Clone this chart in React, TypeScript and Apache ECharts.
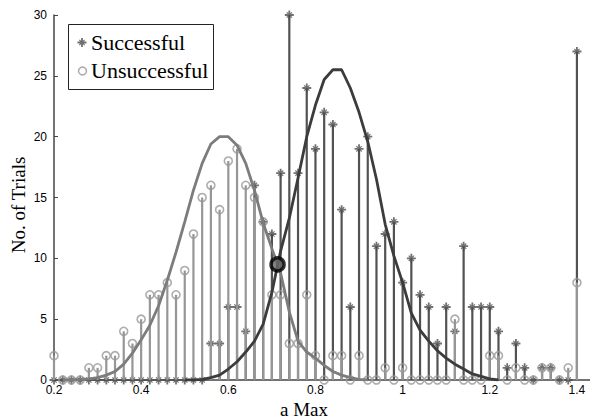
import React, { useEffect, useRef } from 'react';
import * as echarts from 'echarts';

// bin centres (a Max)
const binX = [
  0.20, 0.22, 0.24, 0.26, 0.28, 0.30, 0.32, 0.34, 0.36, 0.38,
  0.40, 0.42, 0.44, 0.46, 0.48, 0.50, 0.52, 0.54, 0.56, 0.58,
  0.60, 0.62, 0.64, 0.66, 0.68, 0.70, 0.72, 0.74, 0.76, 0.78,
  0.80, 0.82, 0.84, 0.86, 0.88, 0.90, 0.92, 0.94, 0.96, 0.98,
  1.00, 1.02, 1.04, 1.06, 1.08, 1.10, 1.12, 1.14, 1.16, 1.18,
  1.20, 1.22, 1.24, 1.26, 1.28, 1.30, 1.32, 1.34, 1.36, 1.38,
  1.40,
];

const successful = [
  0, 0, 0, 0, 0, 0, 0, 0, 0, 0,
  0, 0, 0, 0, 0, 0, 0, 0, 3, 3,
  6, 6, 4, 16, 13, 12, 17, 30, 17, 24,
  19, 22, 21, 14, 6, 19, 20, 11, 12, 13,
  8, 10, 7, 6, 3, 6, 4, 11, 6, 6,
  6, 4, 1, 3, 1, 0, 1, 1, 0, 0,
  27,
];

const unsuccessful = [
  2, 0, 0, 0, 1, 1, 2, 2, 4, 3,
  5, 7, 7, 8, 7, 9, 12, 15, 16, 14,
  18, 19, 16, 15, 13, 7, 7, 3, 3, 7,
  2, 0, 2, 2, 0, 2, 0, 0, 1, 0,
  1, 0, 0, 0, 0, 0, 5, 0, 0, 0,
  2, 2, 0, 1, 0, 0, 1, 1, 0, 1,
  8,
];

// fitted curves
const unsFitX = [
  0.22, 0.24, 0.26, 0.28, 0.30, 0.32, 0.34, 0.36, 0.38, 0.40,
  0.42, 0.44, 0.46, 0.48, 0.50, 0.52, 0.54, 0.56, 0.58, 0.60,
  0.62, 0.64, 0.66, 0.68, 0.70, 0.72, 0.74, 0.76, 0.78, 0.80,
  0.82, 0.84, 0.86, 0.88, 0.90, 0.92,
];
const unsFitY = [
  0, 0, 0.05, 0.1, 0.2, 0.4, 0.7, 1.3, 2.2, 3.3,
  4.5, 6.1, 8.2, 10.5, 13.0, 15.6, 17.8, 19.4, 20.0, 20.0,
  19.3, 17.8, 15.6, 12.9, 10.8, 8.8, 5.6, 3.2, 2.3, 1.8,
  1.2, 0.7, 0.4, 0.2, 0.05, 0,
];

const sucFitX = [
  0.50, 0.52, 0.54, 0.56, 0.58, 0.60, 0.62, 0.64, 0.66, 0.68,
  0.70, 0.72, 0.74, 0.76, 0.78, 0.80, 0.82, 0.84, 0.86, 0.88,
  0.90, 0.92, 0.94, 0.96, 0.98, 1.00, 1.02, 1.04, 1.06, 1.08,
  1.10, 1.12, 1.14, 1.16, 1.18, 1.20, 1.22,
];
const sucFitY = [
  0, 0, 0.05, 0.2, 0.4, 0.9, 1.5, 2.3, 3.2, 4.6,
  7.2, 10.6, 13.3, 16.6, 20.0, 22.6, 24.7, 25.5, 25.5, 24.0,
  22.0, 19.6, 16.5, 12.8, 10.2, 8.0, 5.5, 4.1, 3.2, 2.4,
  1.8, 1.3, 0.9, 0.5, 0.3, 0.1, 0,
];

const crossing = [0.713, 9.5];

const legendNames = ['Successful', 'Unsuccessful'];
const xTitle = 'a Max';
const yTitle = 'No. of Trials';

const STAR_D =
  'M0,4H10V6H0Z M4,0H6V10H4Z M1.6,2.5L2.5,1.6L8.4,7.5L7.5,8.4Z M7.5,1.6L8.4,2.5L2.5,8.4L1.6,7.5Z';

let registered = false;
function ensureShape() {
  if (registered) return;
  echarts.graphic.registerShape('legendStar', echarts.graphic.extendPath(STAR_D, {}));
  registered = true;
}

const SERIF = '"Liberation Serif", "Times New Roman", serif';
const SANS = '"Liberation Sans", Arial, sans-serif';

function stemSeries(name: string, xs: number[], ys: number[], color: string, z: number) {
  return {
    name,
    type: 'custom',
    z,
    silent: true,
    encode: { x: 0, y: 1 },
    data: xs.map((x, i) => [x, ys[i]]),
    renderItem: (_p: any, api: any) => {
      const x = api.value(0);
      const y = api.value(1);
      const a = api.coord([x, 0]);
      const b = api.coord([x, y]);
      return {
        type: 'line',
        shape: { x1: a[0], y1: a[1], x2: b[0], y2: b[1] },
        style: { stroke: color, lineWidth: 2.2 },
      };
    },
  };
}

export default function App() {
  const ref = useRef<HTMLDivElement>(null);

  useEffect(() => {
    if (!ref.current) return;
    ensureShape();
    const chart = echarts.init(ref.current, undefined, { renderer: 'svg' });
    const option: any = {
      animation: false,
      backgroundColor: '#fff',
      grid: { left: 54, right: 0, top: 15, bottom: 40 },
      xAxis: {
        type: 'value',
        min: 0.2,
        max: 1.43,
        interval: 0.2,
        axisLine: { lineStyle: { color: '#444', width: 1.5 } },
        axisTick: { inside: true, length: 4, lineStyle: { color: '#444' } },
        splitLine: { show: false },
        axisLabel: {
          showMaxLabel: false,
          margin: 4,
          fontSize: 12,
          fontFamily: SANS,
          color: '#000',
          formatter: (v: number) => {
            if (Math.abs(v * 5 - Math.round(v * 5)) > 1e-6) return '';
            return String(Math.round(v * 10) / 10);
          },
        },
      },
      yAxis: {
        type: 'value',
        min: 0,
        max: 30,
        interval: 5,
        axisLine: { show: true, lineStyle: { color: '#444', width: 1.5 } },
        axisTick: { show: true, inside: true, length: 4, lineStyle: { color: '#444' } },
        splitLine: { show: false },
        axisLabel: { margin: 7, fontSize: 12, fontFamily: SANS, color: '#000' },
      },
      series: [
        stemSeries('succStems', binX, successful, '#525252', 2),
        {
          name: legendNames[0],
          type: 'scatter',
          z: 3,
          symbol: 'path://' + STAR_D,
          symbolSize: 9,
          itemStyle: { color: '#4d4d4d' },
          data: binX.map((x, i) => [x, successful[i]]),
        },
        stemSeries('unsuccStems', binX, unsuccessful, '#969696', 4),
        {
          name: legendNames[1],
          type: 'scatter',
          z: 5,
          symbol: 'circle',
          symbolSize: 8,
          itemStyle: { color: 'rgba(255,255,255,0)', borderColor: '#999999', borderWidth: 1.6 },
          data: binX.map((x, i) => [x, unsuccessful[i]]),
        },
        {
          name: 'unsFit',
          type: 'line',
          z: 6,
          symbol: 'none',
          lineStyle: { color: '#7c7c7c', width: 2.8 },
          data: unsFitX.map((x, i) => [x, unsFitY[i]]),
        },
        {
          name: 'sucFit',
          type: 'line',
          z: 7,
          symbol: 'none',
          lineStyle: { color: '#3c3c3c', width: 2.8 },
          data: sucFitX.map((x, i) => [x, sucFitY[i]]),
        },
        {
          name: 'crossing',
          type: 'scatter',
          z: 8,
          symbol: 'circle',
          symbolSize: 13,
          itemStyle: { color: '#666', borderColor: '#000', borderWidth: 3.5 },
          data: [crossing],
        },
      ],
      graphic: [
        {
          type: 'rect',
          z: 100,
          shape: { x: 68.5, y: 24.5, width: 145, height: 65 },
          style: { fill: '#fff', stroke: '#222', lineWidth: 1 },
        },
        {
          type: 'legendStar',
          z: 101,
          x: 77.5,
          y: 38,
          scaleX: 0.9,
          scaleY: 0.9,
          style: { fill: '#707070' },
        },
        {
          type: 'circle',
          z: 101,
          shape: { cx: 82.5, cy: 71, r: 4 },
          style: { fill: '#fff', stroke: '#aaa', lineWidth: 1.5 },
        },
        {
          type: 'text',
          z: 101,
          x: 91,
          y: 42,
          style: {
            text: legendNames[0],
            fontFamily: SERIF,
            fontSize: 22,
            fill: '#000',
            verticalAlign: 'middle',
          },
        },
        {
          type: 'text',
          z: 101,
          x: 91,
          y: 70,
          style: {
            text: legendNames[1],
            fontFamily: SERIF,
            fontSize: 22,
            fill: '#000',
            verticalAlign: 'middle',
          },
        },
        {
          type: 'text',
          x: 18,
          y: 205,
          rotation: Math.PI / 2,
          style: {
            text: yTitle,
            fontFamily: SERIF,
            fontSize: 19,
            fill: '#000',
            align: 'center',
            verticalAlign: 'middle',
          },
        },
        {
          type: 'text',
          x: 304,
          y: 409,
          style: {
            text: xTitle,
            fontFamily: SERIF,
            fontSize: 19,
            fill: '#000',
            align: 'center',
            verticalAlign: 'middle',
          },
        },
      ],
    };
    chart.setOption(option);
    return () => chart.dispose();
  }, []);

  return (
    <div
      ref={ref}
      style={{ position: 'absolute', left: 0, top: 0, width: 590, height: 420 }}
    />
  );
}
